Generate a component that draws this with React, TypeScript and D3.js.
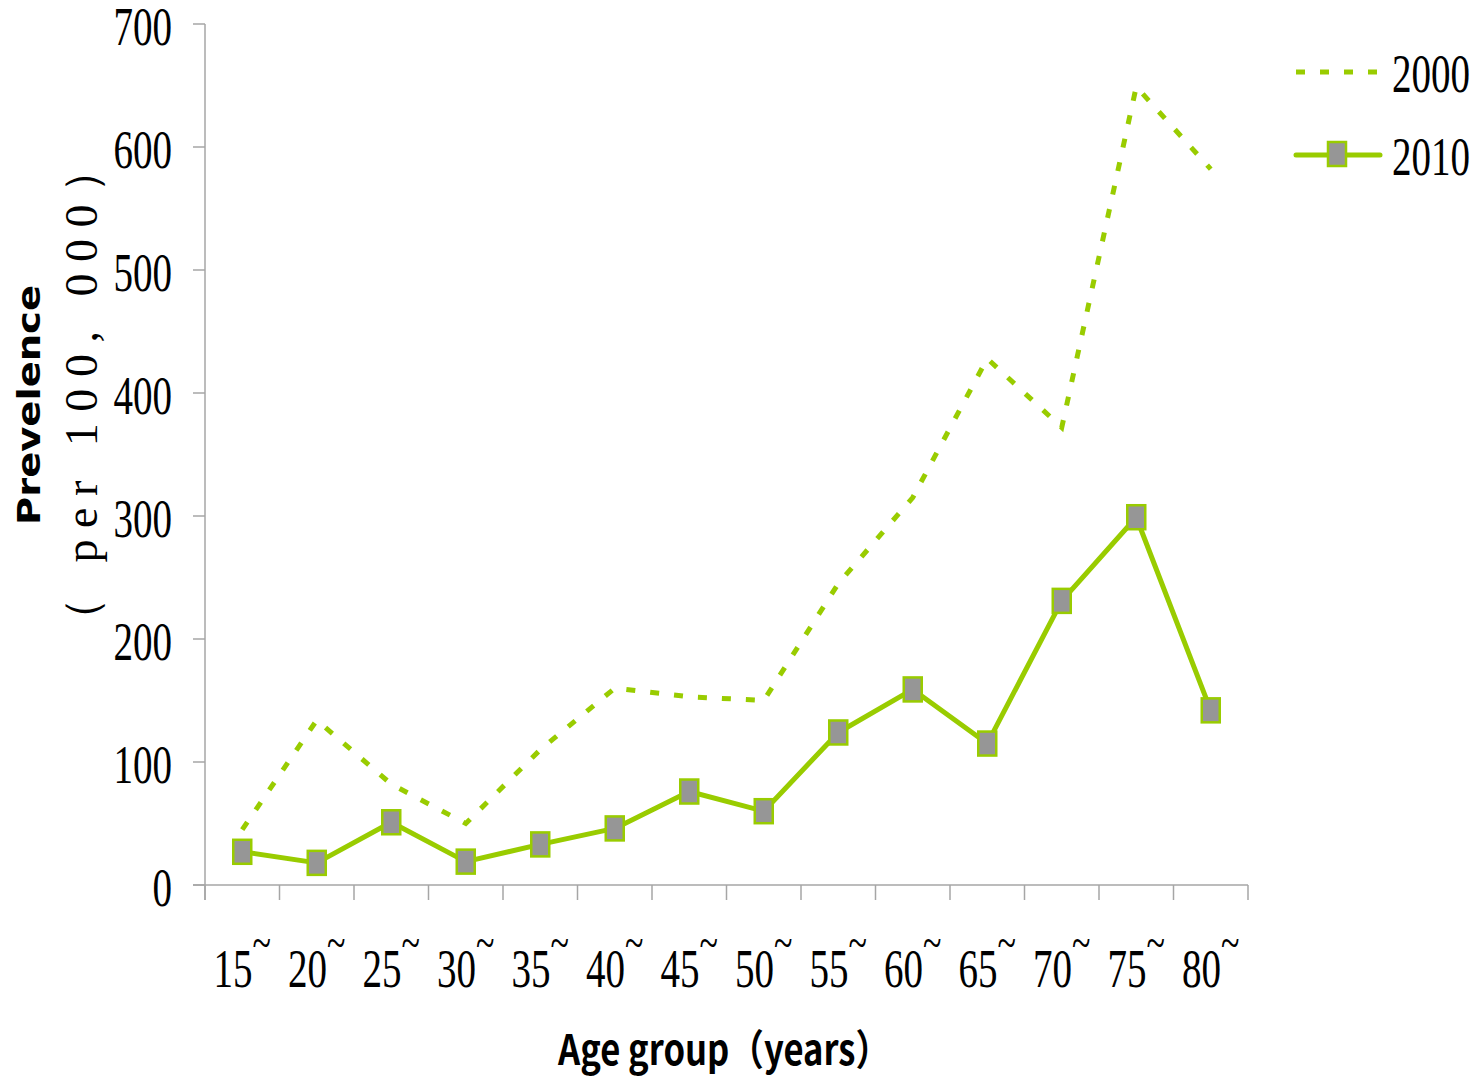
import React from 'react'
import * as d3 from 'd3'

const categories = ['15', '20', '25', '30', '35', '40', '45', '50', '55', '60', '65', '70', '75', '80']
const values2000 = [45, 134, 82, 50, 110, 160, 153, 150, 245, 315, 428, 372, 649, 582]
const values2010 = [27, 18, 51, 19, 33, 46, 76, 60, 124, 159, 115, 231, 299, 142]
const yTicks = [0, 100, 200, 300, 400, 500, 600, 700]
const seriesNames = ['2000', '2010']

const W = 1480
const H = 1077
const left = 205
const right = 1248
const top = 24
const bottom = 885

const green = '#99cc00'
const axisGray = '#a6a6a6'
const numFont = '"Liberation Serif", "DejaVu Serif", serif'
const sx = 0.71

const Marker: React.FC<{ x: number; y: number }> = ({ x, y }) => (
  <rect x={x - 9} y={y - 12} width={18} height={24} fill="#969696" stroke={green} strokeWidth={2.5} />
)

export default function App() {
  const x = d3.scaleBand<string>().domain(categories).range([left, right]).padding(0)
  const y = d3.scaleLinear().domain([0, 700]).range([bottom, top])
  const cx = (c: string) => (x(c) || 0) + x.bandwidth() / 2

  const line = d3
    .line<number>()
    .x((_, i) => cx(categories[i]))
    .y((d) => y(d))

  const bounds = categories.map((c) => x(c) || 0).concat([right])

  return (
    <svg
      width={W}
      height={H}
      style={{ position: 'absolute', left: 0, top: 0, background: '#fff' }}
    >
      {/* axes */}
      <line x1={left} x2={left} y1={top} y2={bottom + 15} stroke={axisGray} strokeWidth={1.5} />
      <line x1={left - 12} x2={right} y1={bottom} y2={bottom} stroke={axisGray} strokeWidth={1.5} />
      {yTicks.map((t) => (
        <g key={t}>
          <line x1={left - 12} x2={left} y1={y(t)} y2={y(t)} stroke={axisGray} strokeWidth={1.5} />
          <text
            transform={`translate(172,${y(t) + 21}) scale(${sx},1)`}
            textAnchor="end"
            fontFamily={numFont}
            fontSize={55}
            fill="#000"
          >
            {t}
          </text>
        </g>
      ))}
      {bounds.map((b, i) => (
        <line key={i} x1={b} x2={b} y1={bottom} y2={bottom + 15} stroke={axisGray} strokeWidth={1.5} />
      ))}
      {categories.map((c) => (
        <text
          key={c}
          transform={`translate(${cx(c)},987) scale(${sx},1)`}
          textAnchor="middle"
          fontFamily={numFont}
          fontSize={55}
          fill="#000"
        >
          {c}
          <tspan fontSize={48} dy={-28}>~</tspan>
        </text>
      ))}

      {/* series */}
      <path
        d={line(values2000) || ''}
        fill="none"
        stroke={green}
        strokeWidth={5}
        strokeDasharray="9,15"
      />
      <path d={line(values2010) || ''} fill="none" stroke={green} strokeWidth={5} strokeLinejoin="round" />
      {values2010.map((v, i) => (
        <Marker key={i} x={cx(categories[i])} y={y(v)} />
      ))}

      {/* legend */}
      <line x1={1296} x2={1380} y1={72} y2={72} stroke={green} strokeWidth={5} strokeDasharray="9,15" />
      <text transform={`translate(1392,92) scale(${sx},1)`} fontFamily={numFont} fontSize={55} fill="#000">
        {seriesNames[0]}
      </text>
      <line x1={1296} x2={1380} y1={155} y2={155} stroke={green} strokeWidth={5} strokeLinecap="round" />
      <Marker x={1337} y={154} />
      <text transform={`translate(1392,175) scale(${sx},1)`} fontFamily={numFont} fontSize={55} fill="#000">
        {seriesNames[1]}
      </text>

      {/* axis titles */}
      <text
        transform="translate(40,405) rotate(-90)"
        textAnchor="middle"
        fontFamily='"DejaVu Sans", sans-serif'
        fontWeight="bold"
        fontSize={32}
        textLength={240}
        lengthAdjust="spacingAndGlyphs"
        fill="#000"
      >
        Prevelence
      </text>
      <text
        transform="translate(97,395) rotate(-90)"
        textAnchor="middle"
        fontFamily={numFont}
        fontSize={46}
        textLength={496}
        lengthAdjust="spacing"
        fill="#000"
      >
        （ per 100, 000）
      </text>
      <text
        x={724}
        y={1065}
        textAnchor="middle"
        fontFamily='"Noto Sans CJK SC", "Open Sans", sans-serif'
        fontWeight="bold"
        fontSize={42}
        textLength={332}
        lengthAdjust="spacingAndGlyphs"
        fill="#000"
      >
        Age group（years）
      </text>
    </svg>
  )
}
